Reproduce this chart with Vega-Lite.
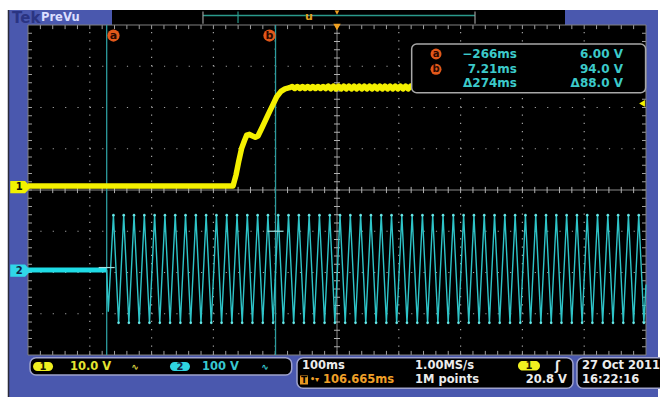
{
"$schema": "https://vega.github.io/schema/vega-lite/v6.json",
"width": 618, "height": 330,
"autosize": {"type": "none"},
"padding": {"left": 28, "top": 25, "right": 14, "bottom": 42},
"background": "#4a58ae",
"config": {"view": {"fill": "#000000", "stroke": null}, "axis": {"disable": true}, "text": {"font": "DejaVu Sans", "fontWeight": "bold", "fontSize": 11.5, "baseline": "middle"}},
"data": {"values": [{}]},
"datasets": {
"ch1": [{"t":-393.3,"div":0.095},{"t":-61.6,"div":0.095},{"t":-56.8,"div":0.36},{"t":-52.0,"div":0.72},{"t":-47.5,"div":1.02},{"t":-43.0,"div":1.2},{"t":-39.4,"div":1.33},{"t":-35.0,"div":1.35},{"t":-30.0,"div":1.31},{"t":-25.5,"div":1.28},{"t":-21.2,"div":1.31},{"t":-14.7,"div":1.51},{"t":-5.0,"div":1.82},{"t":3.0,"div":2.07},{"t":9.1,"div":2.26},{"t":16.0,"div":2.39},{"t":22.5,"div":2.45},{"t":30.0,"div":2.48},
{"t":34.2,"div":2.51},{"t":38.3,"div":2.46},{"t":42.5,"div":2.51},{"t":46.7,"div":2.46},{"t":50.9,"div":2.51},{"t":55.0,"div":2.46},{"t":59.2,"div":2.51},{"t":63.4,"div":2.46},{"t":67.5,"div":2.51},{"t":71.7,"div":2.46},{"t":75.9,"div":2.51},{"t":80.0,"div":2.46},{"t":84.2,"div":2.51},{"t":88.4,"div":2.46},{"t":92.6,"div":2.52},{"t":96.7,"div":2.45},{"t":100.9,"div":2.52},{"t":105.1,"div":2.45},{"t":109.2,"div":2.52},{"t":113.4,"div":2.45},{"t":117.6,"div":2.52},{"t":121.7,"div":2.45},{"t":125.9,"div":2.52},{"t":130.1,"div":2.45},{"t":134.3,"div":2.52},{"t":138.4,"div":2.45},{"t":142.6,"div":2.52},{"t":146.8,"div":2.45},{"t":150.9,"div":2.52},{"t":155.1,"div":2.45},{"t":159.3,"div":2.52},{"t":163.4,"div":2.45},{"t":167.6,"div":2.52},{"t":171.8,"div":2.45},{"t":176.0,"div":2.52},{"t":180.1,"div":2.45},{"t":184.3,"div":2.52},{"t":188.5,"div":2.45},{"t":192.6,"div":2.52},{"t":196.8,"div":2.45},{"t":201.0,"div":2.52},{"t":205.1,"div":2.45},{"t":209.3,"div":2.52},{"t":213.5,"div":2.45},{"t":217.7,"div":2.52},{"t":221.8,"div":2.45},{"t":226.0,"div":2.52},{"t":227.5,"div":2.49}],
"ch2_off": [{"t":-393.3,"div":-1.94},{"t":-266,"div":-1.94}],
"ch2_on": [{"t":-266,"div":-1.94},{"t":-263.4,"div":-2.95},
{"t":-255.10,"div":-0.61},{"t":-246.77,"div":-3.22},{"t":-238.43,"div":-0.61},{"t":-230.10,"div":-3.22},{"t":-221.77,"div":-0.61},{"t":-213.43,"div":-3.22},{"t":-205.10,"div":-0.61},{"t":-196.77,"div":-3.22},{"t":-188.43,"div":-0.61},{"t":-180.10,"div":-3.22},{"t":-171.77,"div":-0.61},{"t":-163.43,"div":-3.22},{"t":-155.10,"div":-0.61},{"t":-146.77,"div":-3.22},{"t":-138.43,"div":-0.61},{"t":-130.10,"div":-3.22},{"t":-121.76,"div":-0.61},{"t":-113.43,"div":-3.22},{"t":-105.10,"div":-0.61},{"t":-96.77,"div":-3.22},{"t":-88.43,"div":-0.61},{"t":-80.10,"div":-3.22},{"t":-71.76,"div":-0.61},{"t":-63.43,"div":-3.22},{"t":-55.10,"div":-0.61},{"t":-46.77,"div":-3.22},{"t":-38.43,"div":-0.61},{"t":-30.10,"div":-3.22},{"t":-21.76,"div":-0.61},{"t":-13.43,"div":-3.22},{"t":-5.10,"div":-0.61},{"t":3.24,"div":-3.22},{"t":11.57,"div":-0.61},{"t":19.90,"div":-3.22},{"t":28.24,"div":-0.61},{"t":36.57,"div":-3.22},{"t":44.91,"div":-0.61},{"t":53.24,"div":-3.22},{"t":61.57,"div":-0.61},{"t":69.91,"div":-3.22},{"t":78.24,"div":-0.61},{"t":86.57,"div":-3.22},{"t":94.91,"div":-0.61},{"t":103.24,"div":-3.22},{"t":111.57,"div":-0.61},{"t":119.91,"div":-3.22},{"t":128.24,"div":-0.61},{"t":136.58,"div":-3.22},{"t":144.91,"div":-0.61},{"t":153.24,"div":-3.22},{"t":161.58,"div":-0.61},{"t":169.91,"div":-3.22},{"t":178.24,"div":-0.61},{"t":186.58,"div":-3.22},{"t":194.91,"div":-0.61},{"t":203.24,"div":-3.22},{"t":211.58,"div":-0.61},{"t":219.91,"div":-3.22},{"t":228.24,"div":-0.61},{"t":236.58,"div":-3.22},{"t":244.91,"div":-0.61},{"t":253.24,"div":-3.22},{"t":261.58,"div":-0.61},{"t":269.91,"div":-3.22},{"t":278.24,"div":-0.61},{"t":286.58,"div":-3.22},{"t":294.91,"div":-0.61},{"t":303.25,"div":-3.22},{"t":311.58,"div":-0.61},{"t":319.91,"div":-3.22},{"t":328.25,"div":-0.61},{"t":336.58,"div":-3.22},{"t":344.91,"div":-0.61},{"t":353.25,"div":-3.22},{"t":361.58,"div":-0.61},{"t":369.91,"div":-3.22},{"t":378.25,"div":-0.61},{"t":386.58,"div":-3.22},{"t":394.91,"div":-0.61},{"t":403.25,"div":-3.22},{"t":411.58,"div":-0.61},{"t":419.91,"div":-3.22},{"t":428.25,"div":-0.61},{"t":436.58,"div":-3.22},{"t":444.91,"div":-0.61},{"t":453.25,"div":-3.22},{"t":461.58,"div":-0.61},{"t":469.91,"div":-3.22},{"t":478.25,"div":-0.61},{"t":486.58,"div":-3.22},{"t":494.92,"div":-0.61},{"t":503.25,"div":-3.22},{"t":511.58,"div":-0.61},{"t":519.91,"div":-3.22},{"t":528.25,"div":-0.61},{"t":536.58,"div":-3.22},{"t":544.92,"div":-0.61},{"t":553.25,"div":-3.22},{"t":561.58,"div":-0.61},{"t":569.91,"div":-3.22},{"t":578.25,"div":-0.61},{"t":586.58,"div":-3.22},{"t":594.92,"div":-0.61},{"t":603.25,"div":-3.22},{"t":606.665,"div":-2.29}],
"cursors": [{"cursor":"a","t":-266,"volts":6.0,"level":-1.88},{"cursor":"b","t":7.21,"volts":94.0,"level":-1.0}],
"xmajor": [{"t":-293.335},{"t":-193.335},{"t":-93.335},{"t":6.665},{"t":206.665},{"t":306.665},{"t":406.665},{"t":506.665}],
"ymajor": [{"div":-3},{"div":-2},{"div":-1},{"div":1},{"div":2},{"div":3}],
"xminor": [{"t":-373.335},{"t":-353.335},{"t":-333.335},{"t":-313.335},{"t":-293.335},{"t":-273.335},{"t":-253.335},{"t":-233.335},{"t":-213.335},{"t":-193.335},{"t":-173.335},{"t":-153.335},{"t":-133.335},{"t":-113.335},{"t":-93.335},{"t":-73.335},{"t":-53.335},{"t":-33.335},{"t":-13.335},{"t":6.665},{"t":26.665},{"t":46.665},{"t":66.665},{"t":86.665},{"t":106.665},{"t":126.665},{"t":146.665},{"t":166.665},{"t":186.665},{"t":206.665},{"t":226.665},{"t":246.665},{"t":266.665},{"t":286.665},{"t":306.665},{"t":326.665},{"t":346.665},{"t":366.665},{"t":386.665},{"t":406.665},{"t":426.665},{"t":446.665},{"t":466.665},{"t":486.665},{"t":506.665},{"t":526.665},{"t":546.665},{"t":566.665},{"t":586.665}],
"yminor": [{"div":-3.8},{"div":-3.6},{"div":-3.4},{"div":-3.2},{"div":-3.0},{"div":-2.8},{"div":-2.6},{"div":-2.4},{"div":-2.2},{"div":-2.0},{"div":-1.8},{"div":-1.6},{"div":-1.4},{"div":-1.2},{"div":-1.0},{"div":-0.8},{"div":-0.6},{"div":-0.4},{"div":-0.2},{"div":0},{"div":0.2},{"div":0.4},{"div":0.6},{"div":0.8},{"div":1.0},{"div":1.2},{"div":1.4},{"div":1.6},{"div":1.8},{"div":2.0},{"div":2.2},{"div":2.4},{"div":2.6},{"div":2.8},{"div":3.0},{"div":3.2},{"div":3.4},{"div":3.6},{"div":3.8}]
},
"layer": [
{"mark": {"type": "rect", "fill": "#ffffff"}, "encoding": {"x": {"datum": -438.64, "type": "quantitative", "scale": {"domain": [-393.335, 606.665], "nice": false, "zero": false}}, "x2": {"datum": 629.32}, "y": {"datum": 4.62, "type": "quantitative", "scale": {"domain": [-4, 4], "nice": false, "zero": false}}, "y2": {"datum": 4.364}}},
{"mark": {"type": "rect", "fill": "#ffffff"}, "encoding": {"x": {"datum": -438.64}, "x2": {"datum": -425.7}, "y": {"datum": 4.62}, "y2": {"datum": -5.1}}},
{"mark": {"type": "rect", "fill": "#ffffff"}, "encoding": {"x": {"datum": 626.08}, "x2": {"datum": 629.32}, "y": {"datum": 4.62}, "y2": {"datum": -5.1}}},
{"mark": {"type": "rule", "stroke": "#2a2a3a", "strokeWidth": 1.5}, "encoding": {"x": {"datum": -424.9}, "y": {"datum": 4.364}, "y2": {"datum": -5.1}}},
{"mark": {"type": "rect", "fill": "#000000"}, "encoding": {"x": {"datum": -257.41}, "x2": {"datum": 475.6}, "y": {"datum": 4.364}, "y2": {"datum": 3.99}}},
{"mark": {"type": "text", "text": "Tek", "align": "left", "fontSize": 15, "color": "#2a3482"}, "encoding": {"x": {"datum": -419.2}, "y": {"datum": 4.17}}},
{"mark": {"type": "text", "text": "PreVu", "align": "left", "fontSize": 11.5, "color": "#dcdfff"}, "encoding": {"x": {"datum": -372.3}, "y": {"datum": 4.17}}},
{"mark": {"type": "rule", "stroke": "#2a9a8c", "strokeWidth": 1.5}, "encoding": {"x": {"datum": -110.2}, "x2": {"datum": 329.97}, "y": {"datum": 4.23}}},
{"mark": {"type": "rule", "stroke": "#9a9a9a", "strokeWidth": 1.2}, "encoding": {"x": {"datum": -110.2}, "y": {"datum": 4.33}, "y2": {"datum": 4.03}}},
{"mark": {"type": "rule", "stroke": "#9a9a9a", "strokeWidth": 1.2}, "encoding": {"x": {"datum": 329.97}, "y": {"datum": 4.33}, "y2": {"datum": 4.03}}},
{"mark": {"type": "rule", "stroke": "#2a9a8c", "strokeWidth": 1.2}, "encoding": {"x": {"datum": -53.5}, "y": {"datum": 4.33}, "y2": {"datum": 4.05}}},
{"mark": {"type": "text", "text": "u", "fontSize": 11, "color": "#e0a020"}, "encoding": {"x": {"datum": 61.4}, "y": {"datum": 4.19}}},
{"mark": {"type": "point", "shape": "triangle-down", "filled": true, "fill": "#f0a020", "size": 22, "opacity": 1}, "encoding": {"x": {"datum": 106.665}, "y": {"datum": 4.3}}},
{"data": {"name": "xmajor"}, "mark": {"type": "rule", "stroke": "#a0a0a0", "strokeWidth": 1.2, "strokeDash": [1.2, 7.05]}, "encoding": {"x": {"field": "t", "type": "quantitative"}, "y": {"datum": -4}, "y2": {"datum": 4}}},
{"data": {"name": "ymajor"}, "mark": {"type": "rule", "stroke": "#a0a0a0", "strokeWidth": 1.2, "strokeDash": [1.2, 11.16]}, "encoding": {"y": {"field": "div", "type": "quantitative"}, "x": {"datum": -393.335}, "x2": {"datum": 606.665}}},
{"mark": {"type": "rule", "stroke": "#8a8a8a", "strokeWidth": 1}, "encoding": {"x": {"datum": -393.335}, "x2": {"datum": 606.665}, "y": {"datum": 0}}},
{"mark": {"type": "rule", "stroke": "#8a8a8a", "strokeWidth": 1}, "encoding": {"x": {"datum": 106.665}, "y": {"datum": -4}, "y2": {"datum": 4}}},
{"data": {"name": "xminor"}, "mark": {"type": "rule", "stroke": "#b0b0b0", "strokeWidth": 1}, "encoding": {"x": {"field": "t", "type": "quantitative"}, "y": {"datum": -0.075}, "y2": {"datum": 0.075}}},
{"data": {"name": "yminor"}, "mark": {"type": "rule", "stroke": "#b0b0b0", "strokeWidth": 1}, "encoding": {"y": {"field": "div", "type": "quantitative"}, "x": {"datum": 101.8}, "x2": {"datum": 111.5}}},
{"data": {"name": "xminor"}, "mark": {"type": "rule", "stroke": "#a0a0a0", "strokeWidth": 1}, "encoding": {"x": {"field": "t", "type": "quantitative"}, "y": {"datum": 4}, "y2": {"datum": 3.9}}},
{"data": {"name": "xminor"}, "mark": {"type": "rule", "stroke": "#a0a0a0", "strokeWidth": 1}, "encoding": {"x": {"field": "t", "type": "quantitative"}, "y": {"datum": -4}, "y2": {"datum": -3.9}}},
{"data": {"name": "yminor"}, "mark": {"type": "rule", "stroke": "#a0a0a0", "strokeWidth": 1}, "encoding": {"y": {"field": "div", "type": "quantitative"}, "x": {"datum": -393.335}, "x2": {"datum": -386.9}}},
{"data": {"name": "yminor"}, "mark": {"type": "rule", "stroke": "#a0a0a0", "strokeWidth": 1}, "encoding": {"y": {"field": "div", "type": "quantitative"}, "x": {"datum": 606.665}, "x2": {"datum": 600.2}}},
{"mark": {"type": "rect", "fill": "transparent", "stroke": "#808080", "strokeWidth": 1}, "encoding": {"x": {"datum": -393.335}, "x2": {"datum": 606.665}, "y": {"datum": -4}, "y2": {"datum": 4}}},
{"data": {"name": "cursors"}, "mark": {"type": "rule", "stroke": "#2c9c9e", "strokeWidth": 1.3}, "encoding": {"x": {"field": "t", "type": "quantitative"}, "y": {"datum": -4}, "y2": {"datum": 4}}},
{"data": {"name": "ch2_off"}, "mark": {"type": "line", "stroke": "#1fdce6", "strokeWidth": 5, "strokeCap": "butt"}, "encoding": {"x": {"field": "t", "type": "quantitative"}, "y": {"field": "div", "type": "quantitative"}}},
{"data": {"name": "ch2_on"}, "mark": {"type": "line", "stroke": "#2ec4c8", "strokeWidth": 1.4}, "encoding": {"x": {"field": "t", "type": "quantitative"}, "y": {"field": "div", "type": "quantitative"}}},
{"data": {"name": "ch2_on"}, "transform": [{"filter": "datum.div < -3.1 || datum.div > -0.7"}], "mark": {"type": "point", "shape": "circle", "filled": true, "fill": "#70f4f4", "size": 7, "opacity": 0.9, "strokeWidth": 0}, "encoding": {"x": {"field": "t", "type": "quantitative"}, "y": {"field": "div", "type": "quantitative"}}},
{"data": {"name": "ch1"}, "mark": {"type": "line", "stroke": "#f4f000", "strokeWidth": 5.5, "strokeJoin": "round", "strokeCap": "butt"}, "encoding": {"x": {"field": "t", "type": "quantitative"}, "y": {"field": "div", "type": "quantitative"}}},
{"data": {"name": "cursors"}, "mark": {"type": "tick", "orient": "horizontal", "size": 16, "thickness": 1.2, "color": "#a0e0e0", "opacity": 1}, "encoding": {"x": {"field": "t", "type": "quantitative"}, "y": {"field": "level", "type": "quantitative"}}},
{"mark": {"type": "point", "shape": "circle", "filled": true, "fill": "#e2581a", "size": 150, "opacity": 1}, "encoding": {"x": {"datum": -255.0}, "y": {"datum": 3.745}}},
{"mark": {"type": "text", "text": "a", "fontSize": 11, "color": "#2a0800"}, "encoding": {"x": {"datum": -255.0}, "y": {"datum": 3.745}}},
{"mark": {"type": "point", "shape": "circle", "filled": true, "fill": "#e2581a", "size": 150, "opacity": 1}, "encoding": {"x": {"datum": -2.57}, "y": {"datum": 3.745}}},
{"mark": {"type": "text", "text": "b", "fontSize": 11, "color": "#2a0800"}, "encoding": {"x": {"datum": -2.57}, "y": {"datum": 3.745}}},
{"mark": {"type": "rect", "fill": "#000000", "stroke": "#a8a8a8", "strokeWidth": 1.5, "cornerRadius": 5}, "encoding": {"x": {"datum": 227.5}, "x2": {"datum": 606.0}, "y": {"datum": 3.539}, "y2": {"datum": 2.359}}},
{"mark": {"type": "point", "shape": "circle", "filled": true, "fill": "#e2581a", "size": 120, "opacity": 1}, "encoding": {"x": {"datum": 266.9}, "y": {"datum": 3.297}}},
{"mark": {"type": "text", "text": "a", "fontSize": 10, "color": "#2a0800"}, "encoding": {"x": {"datum": 266.9}, "y": {"datum": 3.297}}},
{"mark": {"type": "point", "shape": "circle", "filled": true, "fill": "#e2581a", "size": 120, "opacity": 1}, "encoding": {"x": {"datum": 266.9}, "y": {"datum": 2.926}}},
{"mark": {"type": "text", "text": "b", "fontSize": 10, "color": "#2a0800"}, "encoding": {"x": {"datum": 266.9}, "y": {"datum": 2.926}}},
{"mark": {"type": "text", "text": "−266ms", "align": "right", "fontSize": 12, "color": "#3ccaca"}, "encoding": {"x": {"datum": 397.9}, "y": {"datum": 3.297}}},
{"mark": {"type": "text", "text": "7.21ms", "align": "right", "fontSize": 12, "color": "#3ccaca"}, "encoding": {"x": {"datum": 397.9}, "y": {"datum": 2.926}}},
{"mark": {"type": "text", "text": "Δ274ms", "align": "right", "fontSize": 12, "color": "#3ccaca"}, "encoding": {"x": {"datum": 397.9}, "y": {"datum": 2.582}}},
{"mark": {"type": "text", "text": "6.00 V", "align": "right", "fontSize": 12, "color": "#3ccaca"}, "encoding": {"x": {"datum": 569.4}, "y": {"datum": 3.297}}},
{"mark": {"type": "text", "text": "94.0 V", "align": "right", "fontSize": 12, "color": "#3ccaca"}, "encoding": {"x": {"datum": 569.4}, "y": {"datum": 2.926}}},
{"mark": {"type": "text", "text": "Δ88.0 V", "align": "right", "fontSize": 12, "color": "#3ccaca"}, "encoding": {"x": {"datum": 569.4}, "y": {"datum": 2.582}}},
{"mark": {"type": "point", "shape": "M-1,-0.6L0.45,-0.6L1,0L0.45,0.6L-1,0.6Z", "filled": true, "fill": "#f2f200", "size": 420, "opacity": 1, "strokeWidth": 0}, "encoding": {"x": {"datum": -405.5}, "y": {"datum": 0.068}}},
{"mark": {"type": "text", "text": "1", "fontSize": 10, "color": "#101000"}, "encoding": {"x": {"datum": -407.5}, "y": {"datum": 0.068}}},
{"mark": {"type": "point", "shape": "M-1,-0.6L0.45,-0.6L1,0L0.45,0.6L-1,0.6Z", "filled": true, "fill": "#30d8e8", "size": 420, "opacity": 1, "strokeWidth": 0}, "encoding": {"x": {"datum": -405.5}, "y": {"datum": -1.955}}},
{"mark": {"type": "text", "text": "2", "fontSize": 10, "color": "#102040"}, "encoding": {"x": {"datum": -407.5}, "y": {"datum": -1.955}}},
{"mark": {"type": "point", "shape": "triangle-left", "filled": true, "fill": "#f2f200", "size": 45, "opacity": 1}, "encoding": {"x": {"datum": 600.2}, "y": {"datum": 2.1}}},
{"mark": {"type": "point", "shape": "triangle-down", "filled": true, "fill": "#f0a020", "size": 55, "opacity": 1}, "encoding": {"x": {"datum": 106.665}, "y": {"datum": 3.95}}},
{"mark": {"type": "rect", "fill": "#000000", "stroke": "#9ea2cc", "strokeWidth": 1.5, "cornerRadius": 6}, "encoding": {"x": {"datum": -390.1}, "x2": {"datum": 33.37}, "y": {"datum": -4.065}, "y2": {"datum": -4.485}}},
{"mark": {"type": "rect", "fill": "#f0f020", "cornerRadius": 5}, "encoding": {"x": {"datum": -385.2}, "x2": {"datum": -352.8}, "y": {"datum": -4.17}, "y2": {"datum": -4.39}}},
{"mark": {"type": "text", "text": "1", "fontSize": 10, "color": "#1a1a00"}, "encoding": {"x": {"datum": -369.06}, "y": {"datum": -4.279}}},
{"mark": {"type": "text", "text": "10.0 V", "align": "left", "color": "#e4e430"}, "encoding": {"x": {"datum": -325.4}, "y": {"datum": -4.279}}},
{"mark": {"type": "text", "text": "∿", "fontSize": 9, "color": "#d8d040"}, "encoding": {"x": {"datum": -220.2}, "y": {"datum": -4.279}}},
{"mark": {"type": "rect", "fill": "#2fd4e0", "cornerRadius": 5}, "encoding": {"x": {"datum": -163.6}, "x2": {"datum": -131.2}, "y": {"datum": -4.17}, "y2": {"datum": -4.39}}},
{"mark": {"type": "text", "text": "2", "fontSize": 10, "color": "#102040"}, "encoding": {"x": {"datum": -147.4}, "y": {"datum": -4.279}}},
{"mark": {"type": "text", "text": "100 V", "align": "left", "color": "#38c8d0"}, "encoding": {"x": {"datum": -111.8}, "y": {"datum": -4.279}}},
{"mark": {"type": "text", "text": "∿", "fontSize": 9, "color": "#38c8d0"}, "encoding": {"x": {"datum": -9.84}, "y": {"datum": -4.279}}},
{"mark": {"type": "rect", "fill": "#000000", "stroke": "#9ea2cc", "strokeWidth": 1.5, "cornerRadius": 6}, "encoding": {"x": {"datum": 41.94}, "x2": {"datum": 488.5}, "y": {"datum": -4.065}, "y2": {"datum": -4.807}}},
{"mark": {"type": "text", "text": "100ms", "align": "left", "color": "#ececec"}, "encoding": {"x": {"datum": 50.03}, "y": {"datum": -4.259}}},
{"mark": {"type": "text", "text": "1.00MS/s", "align": "left", "color": "#ececec"}, "encoding": {"x": {"datum": 232.9}, "y": {"datum": -4.259}}},
{"mark": {"type": "rect", "fill": "#f0f020", "cornerRadius": 5}, "encoding": {"x": {"datum": 399.5}, "x2": {"datum": 435.1}, "y": {"datum": -4.145}, "y2": {"datum": -4.376}}},
{"mark": {"type": "text", "text": "1", "fontSize": 10, "color": "#1a1a00"}, "encoding": {"x": {"datum": 417.3}, "y": {"datum": -4.26}}},
{"mark": {"type": "text", "text": "ʃ", "fontSize": 12, "color": "#ececec"}, "encoding": {"x": {"datum": 463.5}, "y": {"datum": -4.259}}},
{"mark": {"type": "rect", "fill": "#e89820"}, "encoding": {"x": {"datum": 46.8}, "x2": {"datum": 59.7}, "y": {"datum": -4.497}, "y2": {"datum": -4.715}}},
{"mark": {"type": "text", "text": "T", "fontSize": 9, "color": "#000000"}, "encoding": {"x": {"datum": 53.2}, "y": {"datum": -4.606}}},
{"mark": {"type": "text", "text": "•▾", "align": "left", "fontSize": 8, "color": "#f0a028"}, "encoding": {"x": {"datum": 62.97}, "y": {"datum": -4.606}}},
{"mark": {"type": "text", "text": "106.665ms", "align": "left", "color": "#f0a028"}, "encoding": {"x": {"datum": 84.0}, "y": {"datum": -4.606}}},
{"mark": {"type": "text", "text": "1M points", "align": "left", "color": "#ececec"}, "encoding": {"x": {"datum": 232.9}, "y": {"datum": -4.606}}},
{"mark": {"type": "text", "text": "20.8 V", "align": "right", "color": "#ececec"}, "encoding": {"x": {"datum": 478.8}, "y": {"datum": -4.606}}},
{"mark": {"type": "rect", "fill": "#000000", "stroke": "#9ea2cc", "strokeWidth": 1.5, "cornerRadius": 6}, "encoding": {"x": {"datum": 494.99}, "x2": {"datum": 700}, "y": {"datum": -4.065}, "y2": {"datum": -4.807}}},
{"mark": {"type": "text", "text": "27 Oct  2011", "align": "left", "color": "#ececec"}, "encoding": {"x": {"datum": 503.1}, "y": {"datum": -4.259}}},
{"mark": {"type": "text", "text": "16:22:16", "align": "left", "color": "#ececec"}, "encoding": {"x": {"datum": 503.1}, "y": {"datum": -4.606}}}
]
}
